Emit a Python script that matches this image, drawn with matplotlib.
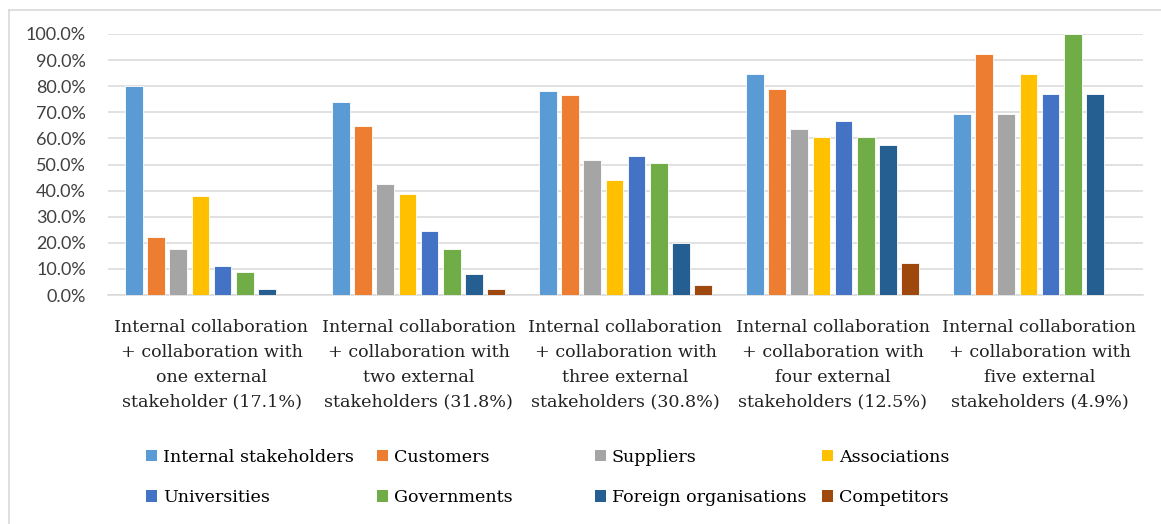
import matplotlib.pyplot as plt
import numpy as np
from matplotlib.lines import Line2D
from matplotlib.patches import Patch
from matplotlib.ticker import PercentFormatter

categories = [
    'Internal collaboration\n+ collaboration with\none external\nstakeholder (17.1%)',
    'Internal collaboration\n+ collaboration with\ntwo external\nstakeholders (31.8%)',
    'Internal collaboration\n+ collaboration with\nthree external\nstakeholders (30.8%)',
    'Internal collaboration\n+ collaboration with\nfour external\nstakeholders (12.5%)',
    'Internal collaboration\n+ collaboration with\nfive external\nstakeholders (4.9%)',
]

series_names = ['Internal stakeholders', 'Customers', 'Suppliers', 'Associations',
                'Universities', 'Governments', 'Foreign organisations', 'Competitors']

internal = [80.0, 74.1, 78.0, 84.8, 69.2]
customers = [22.2, 64.7, 76.8, 78.8, 92.3]
suppliers = [17.8, 42.4, 51.9, 63.6, 69.2]
associations = [37.8, 38.8, 44.0, 60.6, 84.6]
universities = [11.1, 24.7, 53.1, 66.7, 76.9]
governments = [8.9, 17.6, 50.6, 60.6, 100.0]
foreign_orgs = [2.2, 8.2, 19.8, 57.6, 76.9]
competitors = [0.0, 2.4, 3.7, 12.1, 0.0]

colors = ['#5B9BD5', '#ED7D31', '#A5A5A5', '#FFC000',
          '#4472C4', '#70AD47', '#255E91', '#9E480E']

series = [internal, customers, suppliers, associations,
          universities, governments, foreign_orgs, competitors]

SERIF = 'DejaVu Serif'
W, H = 1161, 524
fig = plt.figure(figsize=(W / 100, H / 100), dpi=100)
ax = fig.add_axes([108 / W, 1 - 295 / H, (1143 - 108) / W, (295 - 34) / H])

x = np.arange(len(categories))
pitch = 0.1066
for j, (vals, col) in enumerate(zip(series, colors)):
    ax.bar(x + (j - 3.5) * pitch, vals, width=0.086, color=col,
           edgecolor='white', linewidth=0.6, zorder=3)

ax.set_xlim(-0.5, len(categories) - 0.5)
ax.set_ylim(0, 100)
ax.set_yticks(np.arange(0, 101, 10))
ax.yaxis.set_major_formatter(PercentFormatter(decimals=1))
ax.grid(axis='y', color='#D9D9D9', linewidth=1.1, zorder=0)
ax.set_axisbelow(True)
for s in ['top', 'right', 'left']:
    ax.spines[s].set_visible(False)
ax.spines['bottom'].set_color('#D9D9D9')
ax.spines['bottom'].set_linewidth(1.1)

ax.tick_params(axis='y', length=0, pad=16)
ax.tick_params(axis='x', length=0, pad=17)
for lab in ax.get_yticklabels():
    lab.set_fontfamily('Lato')
    lab.set_fontsize(13)
    lab.set_color('#404040')

ax.set_xticks(x)
ax.set_xticklabels(categories, fontfamily=SERIF, fontsize=12.6,
                   linespacing=1.62, color='#222222')

# legend: Excel-style fixed columns, two rows
col_x = [146, 377, 595, 822]
rows_y = [458, 497]
for c in range(4):
    handles = []
    for r in range(2):
        k = r * 4 + c
        handles.append(Patch(facecolor=colors[k], edgecolor='none', label=series_names[k]))
    fig.legend(handles=handles, loc='center left',
               bbox_to_anchor=(col_x[c] / W, 1 - (rows_y[0] + rows_y[1]) / 2 / H),
               frameon=False, prop={'family': SERIF, 'size': 12.6},
               handlelength=0.65, handleheight=0.65, handletextpad=0.3,
               labelspacing=1.35, borderaxespad=0, borderpad=0)

# chart area border (cropped: only left and top visible)
fig.add_artist(Line2D([9 / W, 9 / W], [0, 1 - 10 / H], color='#D9D9D9', linewidth=1.2))
fig.add_artist(Line2D([9 / W, 1], [1 - 10 / H, 1 - 10 / H], color='#D9D9D9', linewidth=1.2))

fig.savefig('out.png', dpi=100, facecolor='white')
